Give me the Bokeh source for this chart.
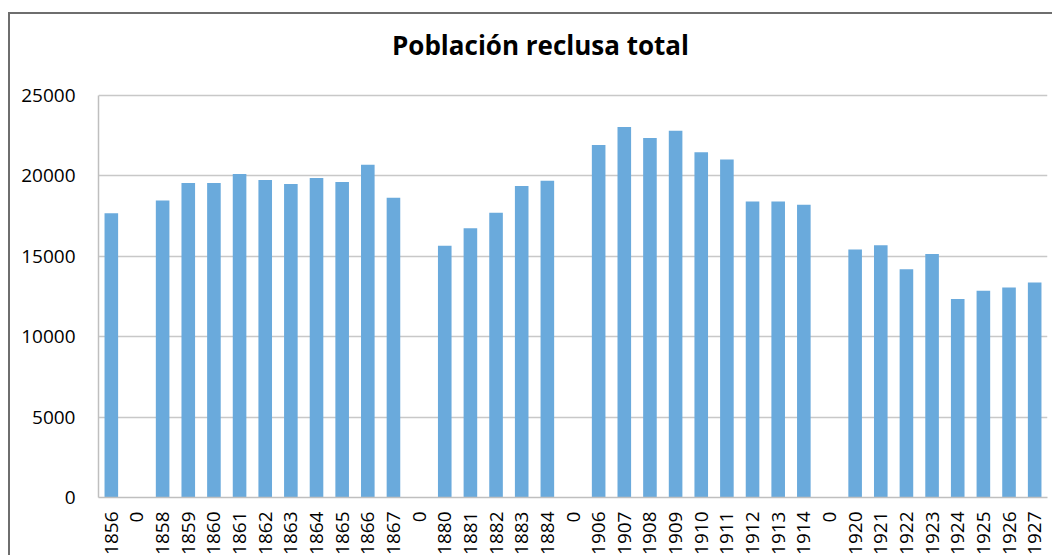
import math
from bokeh.plotting import figure
from bokeh.models import ColumnDataSource, FixedTicker, Range1d, Label
from bokeh.embed import file_html
from bokeh.resources import INLINE

labels = ["1856", "0", "1858", "1859", "1860", "1861", "1862", "1863", "1864", "1865",
          "1866", "1867", "0", "1880", "1881", "1882", "1883", "1884", "0",
          "1906", "1907", "1908", "1909", "1910", "1911", "1912", "1913", "1914", "0",
          "1920", "1921", "1922", "1923", "1924", "1925", "1926", "1927"]
values = [17650, 0, 18450, 19530, 19530, 20090, 19720, 19470, 19840, 19590,
          20660, 18620, 0, 15640, 16730, 17680, 19350, 19670, 0,
          21890, 23020, 22330, 22780, 21440, 20990, 18380, 18380, 18190, 0,
          15400, 15660, 14180, 15130, 12330, 12840, 13050, 13360]
y_ticks = [0, 5000, 10000, 15000, 20000, 25000]
title_text = "Población reclusa total"

idx = list(range(len(labels)))
src = ColumnDataSource(dict(x=idx, top=values, label=labels))

FONT = "Open Sans"

# frame spans the full height above the axis; the extra head-room hosts the title
p = figure(width=1044, height=543, output_backend="svg", toolbar_location=None,
           x_range=Range1d(-0.5, len(labels) - 0.5), y_range=Range1d(0, 30000),
           min_border_left=88, min_border_right=7, min_border_top=0, min_border_bottom=57)

p.vbar(x="x", top="top", width=0.53, source=src, fill_color="#6aaadc", line_color=None)

title = Label(x=442, y=453, x_units="screen", y_units="screen", text=title_text,
              text_font=FONT, text_font_size="26px", text_font_style="bold",
              text_color="#000000", text_align="center", text_baseline="middle")
p.add_layout(title)

p.outline_line_color = None
p.background_fill_color = "white"
p.border_fill_color = "white"

p.xaxis.ticker = FixedTicker(ticks=idx)
p.xaxis.major_label_overrides = {i: l for i, l in enumerate(labels)}
p.xaxis.major_label_orientation = math.pi / 2
p.xaxis.axis_line_color = "#bfbfbf"
p.xaxis.axis_line_width = 1.5
p.xaxis.major_tick_line_color = None
p.xaxis.minor_tick_line_color = None
p.xaxis.major_label_standoff = 8
p.xaxis.major_label_text_font = FONT
p.xaxis.major_label_text_font_size = "19px"
p.xaxis.major_label_text_color = "#000000"

p.yaxis.ticker = FixedTicker(ticks=y_ticks)
p.yaxis.bounds = (0, 25000)
p.yaxis.axis_line_color = "#bfbfbf"
p.yaxis.axis_line_width = 1.5
p.yaxis.major_tick_line_color = None
p.yaxis.minor_tick_line_color = None
p.yaxis.major_label_standoff = 17
p.yaxis.major_label_text_font = FONT
p.yaxis.major_label_text_font_size = "19px"
p.yaxis.major_label_text_color = "#000000"

p.xgrid.grid_line_color = None
p.ygrid.grid_line_color = "#c8c8c8"
p.ygrid.grid_line_width = 1.5

p.styles = {"border-left": "2px solid #6e6e6e", "border-top": "2px solid #6e6e6e",
            "margin-top": "12px", "margin-left": "8px"}

open("out.html", "w").write(file_html(p, INLINE))
